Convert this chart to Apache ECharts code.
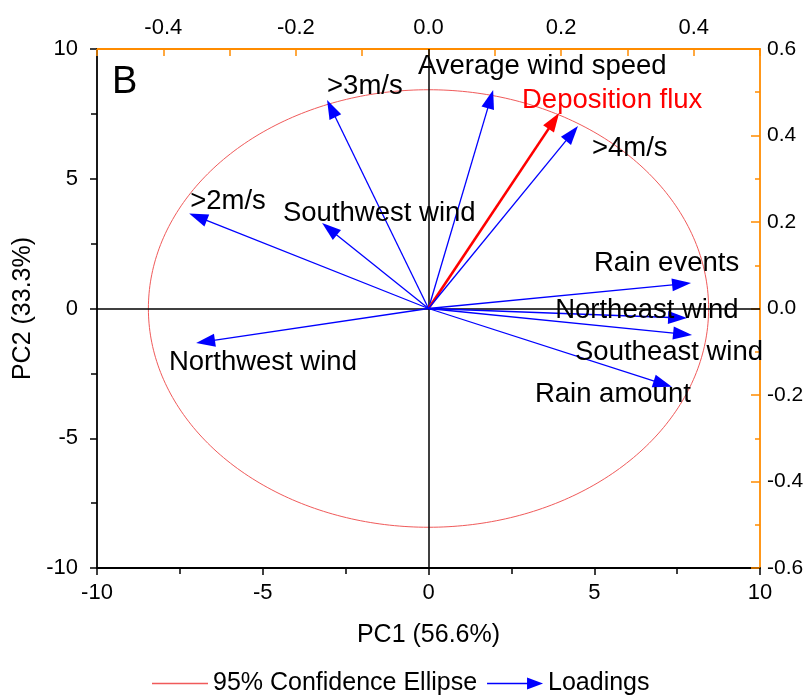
<!DOCTYPE html>
<html>
<head>
<meta charset="utf-8">
<script src="https://cdn.jsdelivr.net/npm/echarts@6/dist/echarts.min.js"></script>
<style>html,body{margin:0;padding:0;background:#fff;}#c{width:812px;height:695px;}</style>
</head>
<body>
<div id="c"></div>
<script>
// ---- data ----
const loadingNames = ['Average wind speed', '>3m/s', 'Deposition flux', '>4m/s', '>2m/s',
  'Southwest wind', 'Northwest wind', 'Rain events', 'Northeast wind', 'Southeast wind', 'Rain amount'];
const loadingPC1 = [1.95, -3.06, 3.94, 4.51, -7.22, -3.21, -7.01, 7.92, 7.80, 7.95, 7.34];
const loadingPC2 = [8.42, 8.03, 7.53, 7.03, 3.66, 3.29, -1.33, 0.98, -0.37, -1.02, -3.02];
const ellipseCenter = [0, 0];
const ellipseRadii = [8.45, 8.43];
const bottomTicks = [-10, -5, 0, 5, 10];
const leftTicks = [-10, -5, 0, 5, 10];
const topTicks = [-0.4, -0.2, 0.0, 0.2, 0.4];
const rightTicks = [-0.6, -0.4, -0.2, 0.0, 0.2, 0.4, 0.6];
const highlighted = 'Deposition flux';

// ---- layout (label anchors in PC units) ----
const labelAnchor = {
  'Average wind speed': [-0.32, 9.31],
  '>3m/s': [-3.06, 8.54],
  'Deposition flux': [2.82, 8.03],
  '>4m/s': [4.93, 6.18],
  '>2m/s': [-7.19, 4.14],
  'Southwest wind': [-4.39, 3.68],
  'Northwest wind': [-7.83, -2.06],
  'Rain events': [4.99, 1.75],
  'Northeast wind': [3.82, -0.06],
  'Southeast wind': [4.42, -1.68],
  'Rain amount': [3.21, -3.33]
};

const FONT = 'Liberation Sans, Arial, sans-serif';
const ORANGE = '#FF8C00';
const BLUE = '#0000FF';
const RED = '#FF0000';
const ELLIPSE_RED = '#F05A5A';

const chart = echarts.init(document.getElementById('c'), null, {renderer: 'canvas'});

const loadingData = loadingNames.map((n, i) => ({name: n, value: [loadingPC1[i], loadingPC2[i]]}));

const fmt1 = v => (Math.abs(v) < 1e-9 ? '0.0' : v.toFixed(1));
const inList = (list, v) => list.some(t => Math.abs(t - v) < 1e-6);

const option = {
  animation: false,
  backgroundColor: '#ffffff',
  textStyle: {fontFamily: FONT},
  grid: {left: 97, right: 52, top: 49, bottom: 127},
  xAxis: [
    {
      type: 'value', position: 'bottom', min: bottomTicks[0], max: bottomTicks[bottomTicks.length - 1], interval: 5,
      name: 'PC1 (56.6%)', nameLocation: 'middle', nameGap: 55,
      nameTextStyle: {fontSize: 25, color: '#000', fontFamily: FONT},
      axisLine: {onZero: false, lineStyle: {color: '#000', width: 1.8}},
      axisTick: {inside: false, length: 7, lineStyle: {color: '#000', width: 1.5}},
      minorTick: {show: true, splitNumber: 2, length: 6, lineStyle: {color: '#000', width: 1.5}},
      axisLabel: {fontSize: 22, color: '#000', margin: 14, fontFamily: FONT,
        formatter: v => inList(bottomTicks, v) ? String(v) : ''},
      splitLine: {show: false}
    },
    {
      type: 'value', position: 'top', min: -0.5, max: 0.5, interval: 0.1,
      axisLine: {onZero: false, lineStyle: {color: ORANGE, width: 1.8}},
      axisTick: {inside: true, length: 7, lineStyle: {color: ORANGE, width: 1.5}},
      axisLabel: {fontSize: 22, color: '#000', margin: 10, fontFamily: FONT,
        formatter: v => inList(topTicks, v) ? fmt1(v) : ''},
      splitLine: {show: false}
    }
  ],
  yAxis: [
    {
      type: 'value', position: 'left', min: leftTicks[0], max: leftTicks[leftTicks.length - 1], interval: 5,
      name: 'PC2 (33.3%)', nameLocation: 'middle', nameGap: 60, nameRotate: 90,
      nameTextStyle: {fontSize: 25, color: '#000', fontFamily: FONT},
      axisLine: {onZero: false, lineStyle: {color: '#000', width: 1.8}},
      axisTick: {inside: false, length: 7, lineStyle: {color: '#000', width: 1.5}},
      minorTick: {show: true, splitNumber: 2, length: 6, lineStyle: {color: '#000', width: 1.5}},
      axisLabel: {fontSize: 22, color: '#000', margin: 19, fontFamily: FONT,
        formatter: v => inList(leftTicks, v) ? String(v) : ''},
      splitLine: {show: false}
    },
    {
      type: 'value', position: 'right', min: rightTicks[0], max: rightTicks[rightTicks.length - 1], interval: 0.2,
      axisLine: {onZero: false, lineStyle: {color: ORANGE, width: 1.8}},
      axisTick: {inside: true, length: 9, lineStyle: {color: ORANGE, width: 1.5}},
      minorTick: {show: true, splitNumber: 2, length: 5, lineStyle: {color: ORANGE, width: 1.5}},
      axisLabel: {fontSize: 21, color: '#000', margin: 7, fontFamily: FONT,
        formatter: v => inList(rightTicks, v) ? fmt1(v) : ''},
      splitLine: {show: false}
    }
  ],
  legend: {
    left: 147, top: 666, itemWidth: 56, itemHeight: 14, itemGap: 10,
    textStyle: {fontSize: 25, color: '#000', fontFamily: FONT},
    data: [
      {name: '95% Confidence Ellipse', icon: 'path://M0,0 L56,0 L56,1.6 L0,1.6 Z'},
      {name: 'Loadings', icon: 'path://M0,6.2 L40,6.2 L40,1 L56,7 L40,13 L40,7.8 L0,7.8 Z'}
    ]
  },
  graphic: [
    {type: 'text', left: 112, top: 64, style: {text: 'B', font: '38px ' + FONT, fill: '#000'}}
  ],
  series: [
    {
      name: 'zero lines', type: 'line', data: [], xAxisIndex: 0, yAxisIndex: 0,
      markLine: {
        silent: true, symbol: 'none', label: {show: false},
        lineStyle: {color: '#000', width: 1.5, type: 'solid'},
        data: [{xAxis: 0}, {yAxis: 0}]
      }
    },
    {
      name: '95% Confidence Ellipse', type: 'custom', xAxisIndex: 0, yAxisIndex: 0,
      itemStyle: {color: ELLIPSE_RED},
      data: [[ellipseCenter[0], ellipseCenter[1], ellipseRadii[0], ellipseRadii[1]]],
      renderItem: function (params, api) {
        const cx = api.value(0), cy = api.value(1), rx = api.value(2), ry = api.value(3);
        const pts = [];
        for (let k = 0; k <= 360; k++) {
          const a = k * Math.PI / 180;
          pts.push(api.coord([cx + rx * Math.cos(a), cy + ry * Math.sin(a)]));
        }
        return {type: 'polyline', shape: {points: pts}, style: {stroke: ELLIPSE_RED, lineWidth: 1, fill: null}};
      }
    },
    {
      name: 'Loadings', type: 'custom', xAxisIndex: 0, yAxisIndex: 0,
      itemStyle: {color: BLUE},
      data: loadingData,
      z: 5,
      renderItem: function (params, api) {
        const i = params.dataIndex;
        const name = loadingNames[i];
        const isHi = name === highlighted;
        const color = isHi ? RED : BLUE;
        const o = api.coord([0, 0]);
        const t = api.coord([api.value(0), api.value(1)]);
        const dx = t[0] - o[0], dy = t[1] - o[1];
        const L = Math.hypot(dx, dy);
        const ux = dx / L, uy = dy / L;
        const hl = 19, hw = 6.5;
        const bx = t[0] - ux * hl, by = t[1] - uy * hl;
        const la = api.coord(labelAnchor[name]);
        return {
          type: 'group',
          children: [
            {type: 'line', shape: {x1: o[0], y1: o[1], x2: bx + ux * 3, y2: by + uy * 3},
              style: {stroke: color, lineWidth: isHi ? 2.6 : 1.3}},
            {type: 'polygon', shape: {points: [t, [bx - uy * hw, by + ux * hw], [bx + uy * hw, by - ux * hw]]},
              style: {fill: color}},
            {type: 'text', x: la[0], y: la[1], z2: 10,
              style: {text: name, font: '27.5px ' + FONT, fill: isHi ? RED : '#000', align: 'left', verticalAlign: 'middle'}}
          ]
        };
      }
    }
  ]
};
chart.setOption(option);
</script>
</body>
</html>
